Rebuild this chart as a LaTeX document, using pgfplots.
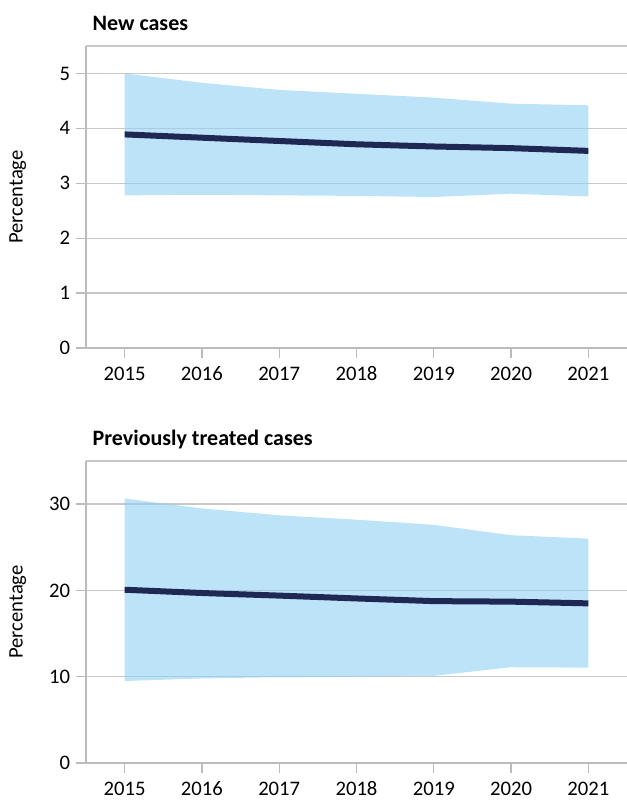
\documentclass[border=0pt]{standalone}
\usepackage{fontspec}
\setmainfont{Carlito}
\usepackage{pgfplots}
\pgfplotsset{compat=1.18}
\usepgfplotslibrary{fillbetween}

\definecolor{bandc}{HTML}{91D0F3}
\definecolor{navy}{HTML}{1F2753}
\definecolor{gridc}{HTML}{C8C8C8}
\definecolor{axc}{HTML}{BBBBBB}

\pgfplotsset{
  mystyle/.style={
    scale only axis, width=405.75pt, height=226.5pt,
    xmin=2014.5, xmax=2021.5, ymin=0,
    xtick={2015,2016,2017,2018,2019,2020,2021},
    axis lines*=left,
    axis line style={axc, line width=1pt},
    tick style={axc, line width=1pt},
    major tick length=7.5pt,
    tick align=outside,
    ymajorgrids=true,
    grid style={gridc, line width=1pt},
    /pgf/number format/assume math mode=true,
    /pgf/number format/1000 sep={},
    tick label style={font=\fontsize{15.5pt}{18pt}\selectfont, black},
    xticklabel style={anchor=base, yshift=-17pt, inner sep=0pt},
    yticklabel style={xshift=-1pt},
    ylabel={Percentage},
    ylabel style={at={(axis description cs:-0.126,0.5)}, anchor=center, rotate=0, font=\fontsize{15.5pt}{18pt}\selectfont},
    title style={at={(axis description cs:0,1)}, anchor=base west, xshift=1.5pt, yshift=5.5pt, font=\bfseries\fontsize{16.5pt}{19pt}\selectfont},
    extra y tick style={grid=major, major tick length=0pt, yticklabel=\empty},
  }
}

\begin{document}
\begin{tikzpicture}
% Top panel: New cases
\begin{axis}[mystyle, at={(0pt,311.25pt)}, anchor=south west,
  ymax=5.5, ytick={0,1,2,3,4,5},
  extra y ticks={5.5}, extra y tick labels={},
  title={New cases}]
  \addplot[name path=upA, draw=none] coordinates {
    (2015,5.00) (2016,4.83) (2017,4.70) (2018,4.63) (2019,4.56) (2020,4.45) (2021,4.42)};
  \addplot[name path=loA, draw=none] coordinates {
    (2015,2.78) (2016,2.79) (2017,2.78) (2018,2.77) (2019,2.75) (2020,2.81) (2021,2.76)};
  \addplot[bandc, fill opacity=0.6, draw=none] fill between[of=upA and loA];
  \addplot[navy, line width=4.5pt] coordinates {
    (2015,3.89) (2016,3.83) (2017,3.77) (2018,3.71) (2019,3.67) (2020,3.64) (2021,3.59)};
\end{axis}
% Bottom panel: Previously treated cases
\begin{axis}[mystyle, at={(0pt,0pt)}, anchor=south west,
  ymax=35, ytick={0,10,20,30},
  extra y ticks={35}, extra y tick labels={},
  title={Previously treated cases}]
  \addplot[name path=upB, draw=none] coordinates {
    (2015,30.65) (2016,29.5) (2017,28.7) (2018,28.2) (2019,27.6) (2020,26.4) (2021,26.0)};
  \addplot[name path=loB, draw=none] coordinates {
    (2015,9.5) (2016,9.8) (2017,9.95) (2018,10.0) (2019,10.1) (2020,11.1) (2021,11.05)};
  \addplot[bandc, fill opacity=0.6, draw=none] fill between[of=upB and loB];
  \addplot[navy, line width=4.5pt] coordinates {
    (2015,20.08) (2016,19.7) (2017,19.4) (2018,19.07) (2019,18.76) (2020,18.7) (2021,18.5)};
\end{axis}
\pgfresetboundingbox
\path (-64.5pt,-27.75pt) rectangle (405.75pt,572.25pt);
\end{tikzpicture}
\end{document}
